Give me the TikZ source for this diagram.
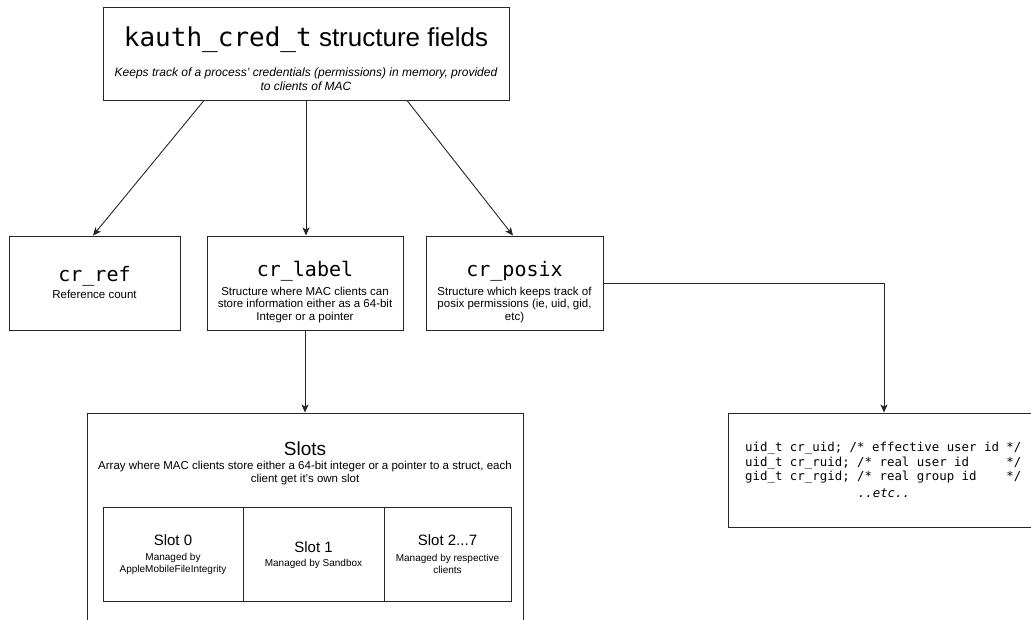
\documentclass[tikz,border=0pt]{standalone}
\usepackage{fontspec}
\setmainfont{Liberation Sans}
\setmonofont{DejaVu Sans Mono}
\usetikzlibrary{arrows.meta}
\newcommand{\monospacing}{\spaceskip=\fontcharwd\font 97\relax\xspaceskip=\spaceskip}
\tikzset{
  box/.style={draw=black!85, line width=0.9pt, rectangle, inner sep=0pt},
  conn/.style={draw=black!85, line width=0.9pt, -{Stealth[length=8pt,width=7pt,inset=2pt]}},
  txt/.style={inner sep=0pt, align=center},
  desc/.style={txt, font=\fontsize{11.5}{12.5}\selectfont},
  mono/.style={txt, font=\fontsize{20}{24}\selectfont\ttfamily},
  slottitle/.style={txt, font=\fontsize{15}{18}\selectfont},
  slotdesc/.style={txt, font=\fontsize{10}{12.5}\selectfont},
  code/.style={txt, font=\fontsize{12.4}{14.5}\selectfont\ttfamily\monospacing},
}
\begin{document}
\begin{tikzpicture}[x=1pt,y=-1pt]
\useasboundingbox (0,0) rectangle (1031,620);
\clip (0,0) rectangle (1031,620);
\fill[white] (0,0) rectangle (1031,620);

% top box
\node[box, minimum width=406pt, minimum height=93pt] (top) at (306,53.5) {};
\node[txt, font=\fontsize{26}{30}\selectfont] (toptitle) at (306,40) {\texttt{kauth\_cred\_t} structure fields};
\node[txt, font=\fontsize{12}{14}\selectfont\itshape] (topsub) at (306,79) {Keeps track of a process' credentials (permissions) in memory, provided\\to clients of MAC};

% second row
\node[box, minimum width=171pt, minimum height=94pt] (ref) at (94.5,283) {};
\node[mono] (reftitle) at (94.5,276) {cr\_ref};
\node[desc] (refsub) at (94.5,294) {Reference count};

\node[box, minimum width=196pt, minimum height=94pt] (label) at (305,283) {};
\node[mono] (labeltitle) at (305,271) {cr\_label};
\node[desc] (labelsub) at (305,305) {Structure where MAC clients can\\store information either as a 64-bit\\Integer or a pointer};

\node[box, minimum width=177pt, minimum height=94pt] (posix) at (514.5,283) {};
\node[mono] (posixtitle) at (514.5,271) {cr\_posix};
\node[desc] (posixsub) at (514.5,305) {Structure which keeps track of\\posix permissions (ie, uid, gid,\\etc)};

% slots
\node[box, minimum width=436pt, minimum height=260pt] (slots) at (305,543) {};
\node[txt, font=\fontsize{19}{22}\selectfont] (slotstitle) at (305,449) {Slots};
\node[desc] (slotssub) at (305,473) {Array where MAC clients store either a 64-bit integer or a pointer to a struct, each\\client get it's own slot};

\node[box, minimum width=140pt, minimum height=94pt] (s0) at (173,554) {};
\node[box, minimum width=141pt, minimum height=94pt] (s1) at (313.5,554) {};
\node[box, minimum width=127pt, minimum height=94pt] (s2) at (447.5,554) {};
\node[slottitle] (s0t) at (173,540) {Slot 0};
\node[slotdesc] (s0s) at (173,564) {Managed by\\AppleMobileFileIntegrity};
\node[slottitle] (s1t) at (313.5,547) {Slot 1};
\node[slotdesc] (s1s) at (313.5,564) {Managed by Sandbox};
\node[slottitle] (s2t) at (447.5,540) {Slot 2...7};
\node[slotdesc] (s2s) at (447.5,564) {Managed by respective\\clients};

% code box
\node[box, minimum width=312pt, minimum height=114pt] (code) at (884,470) {};
\node[code, align=left, anchor=north west] (codetext) at (745,442) {uid\_t cr\_uid; /* effective user id */\\
uid\_t cr\_ruid; /* real user id\ \ \ \ \ */\\
gid\_t cr\_rgid; /* real group id\ \ \ \ */};
\node[code, font=\fontsize{12.4}{14.5}\selectfont\ttfamily\itshape] (etc) at (884,493) {..etc..};

% connectors
\draw[conn] (top.south -| 204,0) -- (ref.north -| 93,0);
\draw[conn] (top.south -| 306,0) -- (label.north -| 306,0);
\draw[conn] (top.south -| 407,0) -- (posix.north -| 513,0);
\draw[conn] (label.south -| 305,0) -- (slots.north -| 305,0);
\coordinate (bend) at (884,283);
\draw[conn] (posix.east |- bend) -- (bend) -- (code.north -| bend);
\end{tikzpicture}
\end{document}
